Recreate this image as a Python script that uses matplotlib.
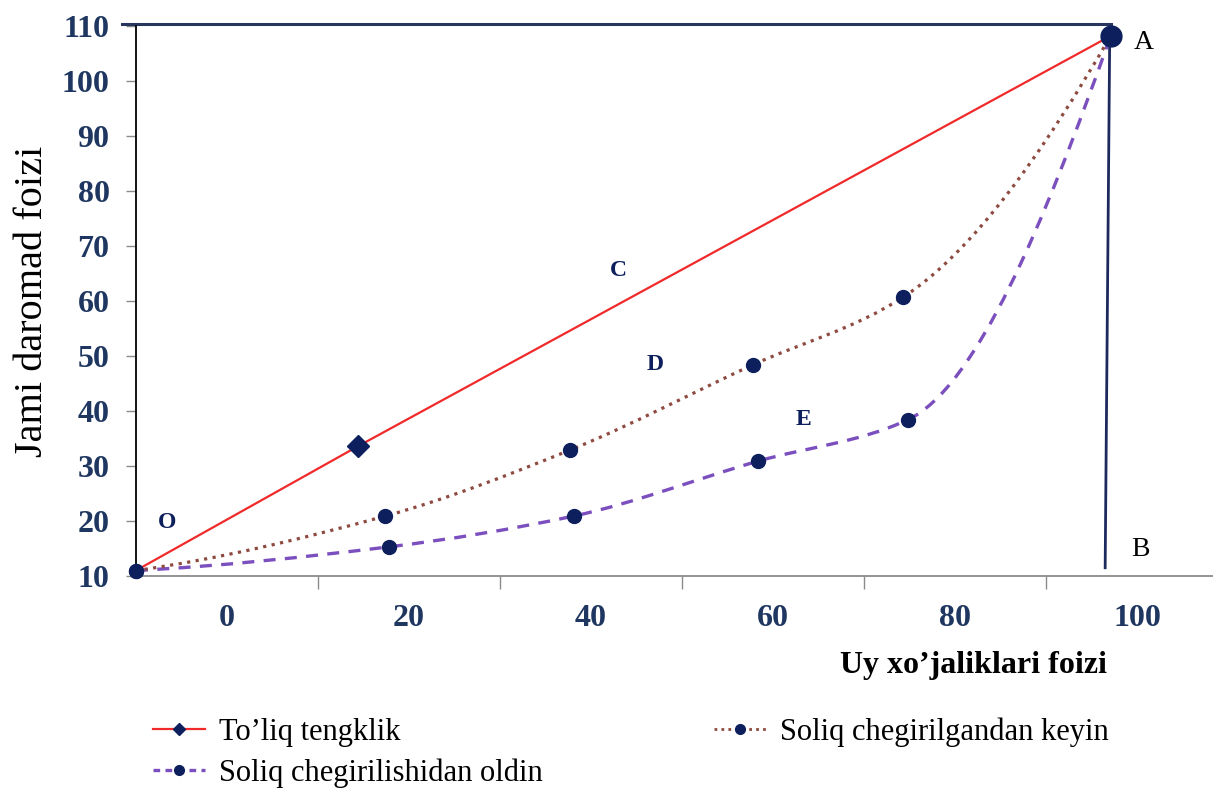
import numpy as np
import matplotlib
matplotlib.use("Agg")
import matplotlib.pyplot as plt
from matplotlib.path import Path
from matplotlib.patches import PathPatch
from matplotlib.lines import Line2D

plt.rcParams["font.family"] = ["Liberation Serif", "DejaVu Serif"]

# values
x_ticks = [0, 20, 40, 60, 80, 100]
y_ticks = [10, 20, 30, 40, 50, 60, 70, 80, 90, 100, 110]

equal_x = [-10, 14.4, 97.1]
equal_y = [11.0, 33.6, 108.2]

after_x = [-10, 17.4, 37.7, 57.8, 74.3, 97.1]
after_y = [11.0, 20.9, 32.9, 48.4, 60.7, 108.2]

before_x = [-10, 17.8, 38.1, 58.4, 74.8, 97.1]
before_y = [11.0, 15.3, 20.9, 30.9, 38.4, 108.2]

point_a = (97.1, 108.2)
top_line_x = [-11.5, 97.1]
top_line_y = [110.3, 110.3]
b_line_x = [97.0, 96.5]
b_line_y = [108.2, 11.5]

point_labels = {"O": (-6.6, 19.8), "C": (43.0, 65.6), "D": (47.0, 48.4), "E": (63.3, 38.4)}
corner_labels = {"A": (99.6, 107.0), "B": (99.4, 14.8)}

navy = "#0d1f5c"
tick_col = "#1f3760"
red = "#f02a2a"
dot_col = "#8e4a40"
dash_col = "#7b4fbe"


def smooth_path(xs, ys):
    # smoothed line as cubic bezier segments, monotone (pchip style) tangents
    x = np.asarray(xs, float)
    y = np.asarray(ys, float)
    h = np.diff(x)
    d = np.diff(y) / h
    n = len(x)
    m = np.zeros(n)
    for k in range(1, n - 1):
        if d[k - 1] * d[k] > 0:
            w1 = 2 * h[k] + h[k - 1]
            w2 = h[k] + 2 * h[k - 1]
            m[k] = (w1 + w2) / (w1 / d[k - 1] + w2 / d[k])
    m[0] = ((2 * h[0] + h[1]) * d[0] - h[0] * d[1]) / (h[0] + h[1])
    m[-1] = ((2 * h[-1] + h[-2]) * d[-1] - h[-1] * d[-2]) / (h[-1] + h[-2])
    m[0] = max(m[0], 0)
    verts = [(x[0], y[0])]
    codes = [Path.MOVETO]
    for k in range(n - 1):
        verts += [(x[k] + h[k] / 3, y[k] + m[k] * h[k] / 3),
                  (x[k + 1] - h[k] / 3, y[k + 1] - m[k + 1] * h[k] / 3),
                  (x[k + 1], y[k + 1])]
        codes += [Path.CURVE4] * 3
    return Path(verts, codes)


fig = plt.figure(figsize=(12.13, 7.92), dpi=100)
ax = fig.add_axes([136 / 1213, 1 - 576 / 792, 1 - 136 / 1213, (576 - 26) / 792])
ax.set_xlim(-10, 108.35)
ax.set_ylim(10, 110)

# curves
ax.add_patch(PathPatch(smooth_path(before_x, before_y), fill=False, ec=dash_col,
                       lw=2.4, ls=(0, (3.6, 2.8)), zorder=3))
ax.add_patch(PathPatch(smooth_path(after_x, after_y), fill=False, ec=dot_col,
                       lw=2.3, ls=(0, (1, 1.7)), zorder=3))
ax.plot(equal_x, equal_y, color=red, lw=1.6, zorder=4)

ax.plot(equal_x[1], equal_y[1], marker="D", ms=11, color=navy, zorder=5, clip_on=False)
ax.plot(after_x[:-1], after_y[:-1], ls="none", marker="o", ms=10, color=navy, zorder=5, clip_on=False)
ax.plot(before_x[:-1], before_y[:-1], ls="none", marker="o", ms=10, color=navy, zorder=5, clip_on=False)
ax.plot(*point_a, marker="o", ms=15, color=navy, zorder=6, clip_on=False)

# frame lines to A and B
ax.plot(top_line_x, top_line_y, color="#27355f", lw=2.2, clip_on=False, zorder=2)
ax.plot(b_line_x, b_line_y, color="#1c2a5e", lw=2.0, zorder=2)

for k, (x, y) in point_labels.items():
    ax.text(x, y, k, color=navy, fontsize=17, fontweight="bold", ha="center", va="center")
for k, (x, y) in corner_labels.items():
    ax.text(x, y, k, color="black", fontsize=20, ha="left", va="center")

# axes styling
for s in ["top", "right"]:
    ax.spines[s].set_visible(False)
ax.spines["left"].set_color("black")
ax.spines["left"].set_linewidth(1.3)
ax.spines["bottom"].set_color("#8a8a8a")
ax.spines["bottom"].set_linewidth(1.3)

ax.set_yticks(y_ticks)
ax.tick_params(axis="y", length=7, width=1, color="#8a8a8a", labelsize=23,
               labelcolor=tick_col, pad=12)
ax.set_xticks(x_ticks)
ax.set_xticks([10, 30, 50, 70, 90], minor=True)
ax.tick_params(axis="x", which="major", length=0, labelsize=23, labelcolor=tick_col, pad=20)
ax.tick_params(axis="x", which="minor", length=9, width=1, color="#8a8a8a")
for lab in ax.get_xticklabels() + ax.get_yticklabels():
    lab.set_fontweight("semibold")

ax.set_ylabel("Jami daromad foizi", fontsize=29, labelpad=8)
fig.text(973 / 1213, 1 - 665 / 792, "Uy xo’jaliklari foizi", fontsize=23,
         fontweight="bold", ha="center", va="center")

handles = [
    Line2D([], [], color=red, lw=1.6, marker="D", ms=6, mfc=navy, mec=navy),
    Line2D([], [], color=dash_col, lw=2.4, ls=(0, (2, 1.6)), marker="o", ms=7, mfc=navy, mec=navy),
    Line2D([], [], color=dot_col, lw=2, ls=(0, (1, 1.5)), marker="o", ms=7, mfc=navy, mec=navy),
]
labels = ["To’liq tengklik", "Soliq chegirilishidan oldin", "Soliq chegirilgandan keyin"]
fig.legend(handles, labels, ncol=2, loc="upper left", bbox_to_anchor=(138 / 1213, 1 - 702 / 792),
           frameon=False, fontsize=22, handlelength=1.7, handletextpad=0.45,
           columnspacing=5.6, labelspacing=0.38, borderpad=0)

fig.savefig("out.png", dpi=100)
